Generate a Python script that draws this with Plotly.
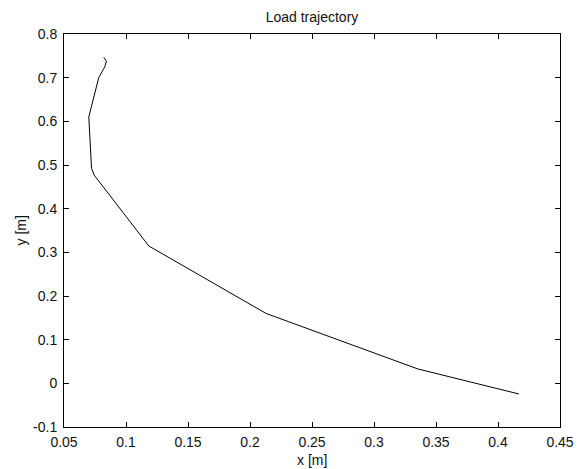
import plotly.graph_objects as go

# Load trajectory data
x_m = [0.0821, 0.0842, 0.0829, 0.0780, 0.0700, 0.0722, 0.0743, 0.1184, 0.2130, 0.3354, 0.4169]
y_m = [0.7466, 0.7380, 0.7250, 0.7000, 0.6100, 0.4925, 0.4770, 0.3145, 0.1600, 0.0329, -0.0244]

x_ticks = [0.05, 0.1, 0.15, 0.2, 0.25, 0.3, 0.35, 0.4, 0.45]
x_tick_labels = ["0.05", "0.1", "0.15", "0.2", "0.25", "0.3", "0.35", "0.4", "0.45"]
y_ticks = [-0.1, 0, 0.1, 0.2, 0.3, 0.4, 0.5, 0.6, 0.7, 0.8]
y_tick_labels = ["-0.1", "0", "0.1", "0.2", "0.3", "0.4", "0.5", "0.6", "0.7", "0.8"]

FONT = "Liberation Sans, Arial, sans-serif"
FS = 14
TXT = "#111"

fig = go.Figure(
    go.Scatter(x=x_m, y=y_m, mode="lines",
               line=dict(color="black", width=1), showlegend=False,
               hoverinfo="skip")
)

axis_common = dict(
    showline=True, linecolor="black", linewidth=1, mirror="ticks",
    ticks="inside", ticklen=5, tickwidth=1, tickcolor="black",
    showgrid=False, zeroline=False,
    tickfont=dict(family=FONT, size=FS, color=TXT),
)

fig.update_xaxes(range=[0.05, 0.45], tickvals=x_ticks, ticktext=x_tick_labels,
                 ticklabelstandoff=2, **axis_common)
fig.update_yaxes(range=[-0.1, 0.8], tickvals=y_ticks, ticktext=y_tick_labels,
                 ticklabelstandoff=3, **axis_common)

fig.update_layout(
    width=586, height=469,
    margin=dict(l=64, r=23, t=34, b=42, pad=0),
    paper_bgcolor="white", plot_bgcolor="white",
    title=dict(text="Load trajectory", x=0.5, xref="paper", xanchor="center",
               y=1 - 17 / 469, yref="container", yanchor="middle",
               font=dict(family=FONT, size=FS, color=TXT)),
    annotations=[
        dict(text="x [m]", x=0.5, y=0, xref="paper", yref="paper",
             xanchor="center", yanchor="middle", yshift=-33, showarrow=False,
             font=dict(family=FONT, size=FS, color=TXT)),
        dict(text="y [m]", x=0, y=0.5, xref="paper", yref="paper",
             xanchor="center", yanchor="middle", xshift=-44, textangle=-90,
             showarrow=False, font=dict(family=FONT, size=FS, color=TXT)),
    ],
)

fig.write_html("out.html", config={"displayModeBar": False, "staticPlot": True},
               post_script="document.body.style.margin='0';")
